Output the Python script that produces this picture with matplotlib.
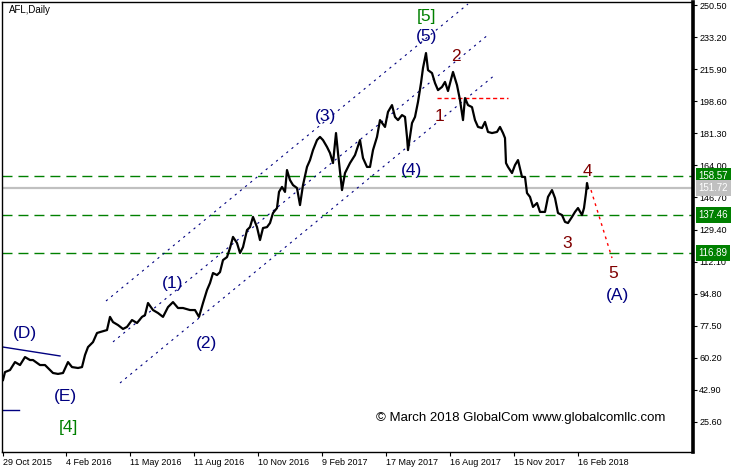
import numpy as np
import matplotlib
matplotlib.use("Agg")
import matplotlib.pyplot as plt
import matplotlib.transforms as mtransforms

# =========================================
# DATA (bar index = trading days since 29 Oct 2015)
# =========================================
bars = [0, 2, 7, 12, 17, 22, 27, 30, 37, 42, 47, 50, 55, 60, 65, 69, 75, 79,
        82, 85, 90, 94, 97, 104, 107, 110, 115, 120, 124, 129, 134, 139, 142,
        145, 150, 155, 160, 165, 170, 175, 180, 187, 192, 196, 200, 204, 207,
        210, 214, 217, 220, 224, 227, 230, 234, 237, 240, 244, 247, 250, 254,
        257, 260, 264, 267, 270, 274, 276, 279, 282, 284, 287, 290, 294, 297,
        300, 304, 307, 310, 314, 317, 320, 324, 327, 330, 333, 335, 339, 342,
        347, 352, 357, 360, 364, 367, 370, 374, 377, 382, 385, 389, 392, 395,
        399, 402, 404, 405, 409, 412, 415, 418, 420, 423, 425, 429, 432, 435,
        439, 442, 445, 450, 454, 457, 460, 462, 465, 469, 472, 475, 479, 482,
        485, 489, 494, 497, 500, 502, 503, 505, 509, 512, 515, 519, 522, 524,
        527, 530, 534, 537, 542, 545, 549, 552, 555, 559, 562, 565, 569, 572,
        575, 579, 581, 583, 584, 585]
close = [48.1, 52.4, 53.5, 57.8, 56.2, 60.5, 58.9, 58.9, 56.2, 56.2, 53.5,
         51.9, 51.4, 51.9, 57.8, 55.1, 54.6, 55.1, 61.6, 65.9, 68.6, 73.5,
         74.0, 75.1, 82.2, 79.4, 77.8, 75.7, 76.8, 80.5, 78.9, 82.2, 83.2,
         89.7, 85.9, 84.3, 82.2, 87.5, 90.2, 87.0, 87.0, 85.9, 85.9, 82.2,
         89.7, 96.7, 100.5, 105.9, 104.8, 106.4, 112.9, 114.5, 119.4, 125.4,
         122.1, 116.7, 119.9, 129.1, 130.7, 136.2, 130.7, 123.7, 130.2, 130.7,
         132.9, 138.3, 141.0, 149.7, 152.4, 149.7, 161.5, 156.1, 153.4, 151.8,
         142.6, 153.4, 163.2, 166.9, 172.3, 177.7, 179.4, 177.7, 174.0, 170.7,
         165.3, 181.5, 170.7, 150.7, 159.9, 165.3, 169.6, 177.7, 168.0, 163.2,
         163.2, 172.3, 179.4, 188.5, 184.8, 192.9, 196.6, 190.2, 188.5, 191.2,
         190.2, 179.4, 172.3, 186.9, 190.2, 198.3, 208.5, 216.6, 224.7, 215.5,
         213.9, 208.5, 204.7, 206.4, 209.1, 204.2, 214.5, 207.4, 199.3, 188.5,
         200.4, 196.6, 195.5, 188.5, 184.8, 184.2, 187.5, 182.1, 181.5, 182.1,
         184.8, 181.5, 178.8, 165.3, 163.2, 159.9, 164.2, 166.9, 157.8, 157.8,
         149.1, 147.0, 141.6, 143.7, 138.9, 138.9, 147.0, 150.7, 146.4, 138.3,
         137.2, 133.5, 132.9, 136.2, 138.9, 141.0, 137.2, 141.0, 149.1, 154.5,
         151.72]

tick_bars = [0, 63, 127, 191, 255, 319, 383, 447, 511, 575]
tick_dates = ["29 Oct 2015", "4 Feb 2016", "11 May 2016", "11 Aug 2016",
              "10 Nov 2016", "9 Feb 2017", "17 May 2017", "16 Aug 2017",
              "15 Nov 2017", "16 Feb 2018"]
price_ticks = [250.50, 233.20, 215.90, 198.60, 181.30, 164.00, 146.70,
               129.40, 112.10, 94.80, 77.50, 60.20, 42.90, 25.60]

levels = [158.57, 137.46, 116.89]   # green dashed levels
last_price = 151.72

# channel lines (bar, price)
chan_upper = ([103, 465], [90.8, 251.2])
chan_mid = ([110, 485], [68.7, 234.5])
chan_low = ([117, 492], [46.5, 212.9])
line_d = ([-1, 57], [66.0, 61.1])
line_e = ([-1, 16], [31.9, 31.9])
red_hline = ([434, 505], [200.4, 200.4])
red_proj = ([588, 609], [150.7, 114.0])

# wave labels: text, bar, price, colour
NAVY = "#000080"
DRED = "#800000"
GREEN = "#008000"
labels = [
    ("[5]", 424, 244.2, GREEN),
    ("(5)", 424, 233.4, NAVY),
    ("2", 453, 222.6, DRED),
    ("1", 437, 190.7, DRED),
    ("(3)", 323, 190.2, NAVY),
    ("(4)", 409, 161.5, NAVY),
    ("4", 584, 161.0, DRED),
    ("3", 564, 122.1, DRED),
    ("5", 610, 105.4, DRED),
    ("(A)", 615, 94.0, NAVY),
    ("(1)", 170, 100.0, NAVY),
    ("(2)", 204, 68.1, NAVY),
    ("(D)", 22, 73.5, NAVY),
    ("(E)", 62, 39.0, NAVY),
    ("[4]", 65, 22.7, GREEN),
]

# =========================================
# PLOT
# =========================================
plt.rcParams['font.family'] = ['Liberation Sans', 'DejaVu Sans']

W, H = 737, 470
fig = plt.figure(figsize=(W / 100, H / 100), dpi=100)
ax = fig.add_axes([2 / W, 18 / H, 691 / W, 450 / H])
ax.set_xlim(-1, 690)
ax.set_ylim(9.23, 252.28)

# horizontal levels
for lv in levels:
    ax.axhline(lv, color=GREEN, lw=1.0, dashes=(7.2, 4.3), zorder=1)
ax.axhline(last_price, color="#c0c0c0", lw=1.6, zorder=1)

# channels and other drawn lines
for xs, ys in (chan_upper, chan_mid, chan_low):
    ax.plot(xs, ys, color=NAVY, lw=0.8, dashes=(2, 4), zorder=2)
ax.plot(*line_d, color=NAVY, lw=1.0, zorder=2)
ax.plot(*line_e, color=NAVY, lw=1.0, zorder=2)
ax.plot(*red_hline, color="red", lw=1.0, dashes=(3, 2), zorder=2)
ax.plot(*red_proj, color="red", lw=1.0, dashes=(2, 3), zorder=2)

# price
ax.plot(bars, close, color="black", lw=1.6, zorder=3)

for txt, bx, py, col in labels:
    ax.text(bx, py, txt, color=col, fontsize=12.5, ha="center", va="center",
            zorder=4)

ax.text(7 / 691, 0.983, "AFL,Daily", transform=ax.transAxes, fontsize=7,
        ha="left", va="center")
ax.text(0.75, 0.075, "\u00a9 March 2018 GlobalCom www.globalcomllc.com",
        transform=ax.transAxes, fontsize=9.5, ha="center", va="center")

# axes
ax.yaxis.tick_right()
ax.set_yticks(price_ticks)
ax.set_yticklabels(["%.2f" % v for v in price_ticks])
ax.set_xticks(tick_bars)
ax.set_xticklabels(tick_dates)
plt.setp(ax.get_xticklabels(), ha="left")
ax.tick_params(axis="both", labelsize=6.5, length=3, width=0.8, pad=1.5,
               direction="out", colors="black")
for s in ("left", "top", "bottom"):
    ax.spines[s].set_linewidth(1.0)
ax.spines["right"].set_linewidth(2.6)

# value boxes on the price axis
trans = mtransforms.blended_transform_factory(ax.transAxes, ax.transData)
for lv in levels:
    ax.text(1.008, lv, "%.2f" % lv, transform=trans, fontsize=7,
            color="white", ha="left", va="center", clip_on=False,
            bbox=dict(boxstyle="square,pad=0.3", fc=GREEN, ec="none"))
ax.text(1.008, last_price, "%.2f" % last_price, transform=trans, fontsize=7,
        color="white", ha="left", va="center", clip_on=False,
        bbox=dict(boxstyle="square,pad=0.3", fc="#c0c0c0", ec="none"))

fig.savefig("out.png", dpi=100)
